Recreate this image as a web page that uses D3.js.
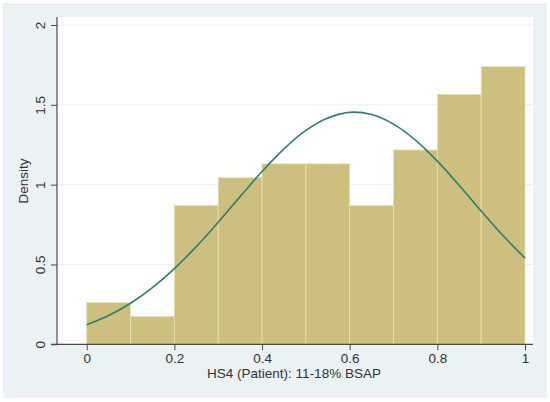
<!DOCTYPE html>
<html><head><meta charset="utf-8">
<script src="https://cdn.jsdelivr.net/npm/d3@7"></script>
<style>body{margin:0;background:#fff}svg{display:block}</style>
</head><body>
<script>
// Histogram bins (bin start, bin end) and density heights
const binStarts = [0, 0.1, 0.2, 0.3, 0.4, 0.5, 0.6, 0.7, 0.8, 0.9];
const binWidth = 0.1;
const densities = [0.2609, 0.1739, 0.8696, 1.0435, 1.1304, 1.1304, 0.8696, 1.2174, 1.5652, 1.7391];
// Normal density curve points
const curveX = [0, 0.05, 0.1, 0.15, 0.2, 0.25, 0.3, 0.35, 0.4, 0.45, 0.5, 0.55, 0.6, 0.65, 0.7, 0.75, 0.8, 0.85, 0.9, 0.95, 1.0];
const curveY = [0.122, 0.180, 0.257, 0.355, 0.474, 0.612, 0.765, 0.925, 1.082, 1.224, 1.340, 1.418, 1.453, 1.439, 1.379, 1.279, 1.147, 0.995, 0.835, 0.680, 0.540];
const xTicks = [0, 0.2, 0.4, 0.6, 0.8, 1];
const yTicks = [0, 0.5, 1, 1.5, 2];
const xTitle = "HS4 (Patient): 11-18% BSAP";
const yTitle = "Density";

const W = 550, H = 402;
const svg = d3.select("body").append("svg").attr("width", W).attr("height", H);
svg.append("rect").attr("x", 3).attr("y", 3).attr("width", W - 6).attr("height", H - 7).attr("fill", "#eaf2f3");

const plotL = 57, plotR = 533, plotT = 17, plotB = 344.3;
svg.append("rect").attr("x", plotL).attr("y", plotT).attr("width", plotR - plotL).attr("height", plotB - plotT).attr("fill", "#fff");

const x = d3.scaleLinear().domain([0, 1]).range([86.7, 525]);
const y = d3.scaleLinear().domain([0, 2]).range([plotB, 25]);

// gridlines
svg.append("g").selectAll("line").data(yTicks.filter(d => d > 0)).join("line")
  .attr("x1", plotL).attr("x2", plotR).attr("y1", d => y(d)).attr("y2", d => y(d))
  .attr("stroke", "#eaf2f3").attr("stroke-width", 1);

// bars
svg.append("g").selectAll("rect").data(binStarts).join("rect")
  .attr("x", (d) => x(d))
  .attr("width", d => x(d + binWidth) - x(d))
  .attr("y", (d, i) => y(densities[i]))
  .attr("height", (d, i) => y(0) - y(densities[i]))
  .attr("fill", "#cdc07e").attr("stroke", "#e9e1b4").attr("stroke-width", 0.8);

// curve
const line = d3.line().x(d => x(d[0])).y(d => y(d[1])).curve(d3.curveCatmullRom);
svg.append("path").datum(curveX.map((v, i) => [v, curveY[i]]))
  .attr("d", line).attr("fill", "none").attr("stroke", "#2e7e70").attr("stroke-width", 1.6);

const font = "Liberation Sans, Arial, sans-serif";
// y axis
const yAxis = svg.append("g").attr("transform", `translate(${plotL},0)`)
  .call(d3.axisLeft(y).tickValues(yTicks).tickSize(6).tickFormat(d3.format("")));
yAxis.select(".domain").attr("d", `M0,${plotT}V${plotB}`).attr("stroke", "#4a4a4a").attr("stroke-width", 1.2);
yAxis.selectAll(".tick line").attr("stroke", "#4a4a4a");
yAxis.selectAll(".tick text").attr("transform", "rotate(-90)").attr("x", 0).attr("y", -17)
  .attr("dy", "0.35em").attr("text-anchor", "middle")
  .attr("font-family", font).attr("font-size", 13.5).attr("fill", "#333");

// x axis
const xAxis = svg.append("g").attr("transform", `translate(0,${plotB})`)
  .call(d3.axisBottom(x).tickValues(xTicks).tickSize(6).tickFormat(d3.format("")));
xAxis.select(".domain").attr("d", `M${plotL - 6},0H${plotR}`).attr("stroke", "#4a4a4a").attr("stroke-width", 1.2);
xAxis.selectAll(".tick line").attr("stroke", "#4a4a4a");
xAxis.selectAll(".tick text").attr("y", 9).attr("font-family", font).attr("font-size", 13.5).attr("fill", "#333");

svg.append("text").attr("x", 294).attr("y", 378).attr("text-anchor", "middle")
  .attr("font-family", font).attr("font-size", 13.5).attr("fill", "#333").text(xTitle);
svg.append("text").attr("transform", `translate(28,181) rotate(-90)`).attr("text-anchor", "middle")
  .attr("font-family", font).attr("font-size", 13.5).attr("fill", "#333").text(yTitle);
</script>
</body></html>
